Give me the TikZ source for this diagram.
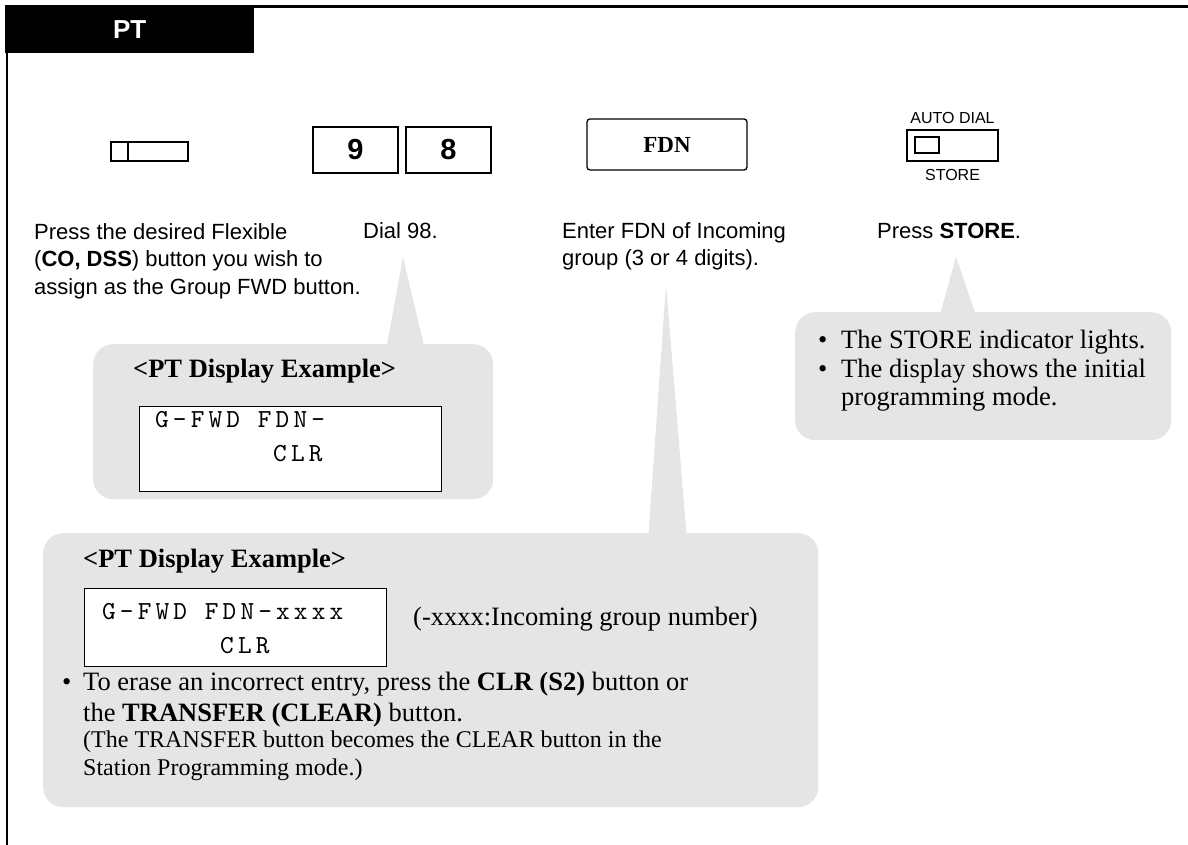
\documentclass[tikz,border=0pt]{standalone}
\usepackage{fontspec}
\setmainfont{Liberation Serif}
\setsansfont{Liberation Sans}
\newfontfamily\lcdfont{lmmono10-regular}[Extension=.otf, LetterSpace=16]
\usetikzlibrary{positioning}

\definecolor{balloongray}{gray}{0.898}

\begin{document}
\begin{tikzpicture}[
  x=1pt, y=-1pt,
  note/.style={inner sep=0pt, anchor=base west, align=left, font=\sffamily\fontsize{22}{27.3}\selectfont},
  sernote/.style={inner sep=0pt, anchor=base west, align=left, font=\fontsize{26.5}{31}\selectfont},
  smallnote/.style={inner sep=0pt, anchor=base west, align=left, font=\fontsize{24}{28}\selectfont},
  balloon/.style={fill=balloongray, rounded corners=20pt, anchor=north west, inner sep=0pt},
  lcd/.style={draw, line width=1.2pt, fill=white, anchor=north west, inner sep=0pt},
  lcdtext/.style={inner sep=0pt, anchor=base west, align=left, font=\lcdfont\fontsize{26}{33.5}\selectfont},
  key/.style={draw, line width=2pt, minimum width=85pt, minimum height=46pt, inner sep=0pt, font=\sffamily\bfseries\fontsize{29}{29}\selectfont},
]
  \useasboundingbox (0,0) rectangle (1188,845);

  % frame and title tab
  \node[fill=black, text=white, anchor=north west, minimum width=249pt, minimum height=48pt, inner sep=0pt,
        font=\sffamily\bfseries\fontsize{26}{26}\selectfont] (tab) at (5,5) {PT};
  \draw[line width=3pt] (tab.north east) ++(0,1.5) -- (1188,6.5);
  \draw[line width=2.5pt] (tab.south west) ++(1.8,0) -- (6.8,845);

  % buttons
  \node[draw, line width=1.8pt, minimum width=77pt, minimum height=19pt, inner sep=0pt, anchor=north west] (flex) at (110,141) {};
  \draw[line width=1.8pt] ([xshift=18pt]flex.north west) -- ([xshift=18pt]flex.south west);
  \node[key] (nine) at (355.5,150) {9};
  \node[key] (eight) at (448.5,150) {8};
  \node[draw, line width=1.3pt, rounded corners=3pt, minimum width=160pt, minimum height=51pt, inner sep=0pt,
        font=\bfseries\fontsize{23}{23}\selectfont] (fdn) at (667,144.5) {FDN};
  \node[draw, line width=2.5pt, minimum width=91pt, minimum height=31pt, inner sep=0pt] (store) at (952.5,145.5) {};
  \node[draw, line width=2pt, minimum width=24pt, minimum height=16pt, inner sep=0pt] (lamp) at (927,145) {};
  \node[inner sep=0pt, anchor=base, font=\sffamily\fontsize{16}{16}\selectfont] (autodial) at (952.5,124) {AUTO DIAL};
  \node[inner sep=0pt, anchor=base, font=\sffamily\fontsize{16}{16}\selectfont] (storelbl) at (952.5,181) {STORE};

  % step texts (base = last line)
  \node[note] (flexnote) at (34,294) {Press the desired Flexible\\(\textbf{CO, DSS}) button you wish to\\assign as the Group FWD button.};
  \node[note] (dialnote) at (363,238) {Dial 98.};
  \node[note] (fdnnote) at (562,265.3) {Enter FDN of Incoming\\group (3 or 4 digits).};
  \node[note] (storenote) at (877,238) {Press \textbf{STORE}.};

  % balloon for dial 98
  \coordinate (tip1) at (403,257);
  \fill[balloongray] (tip1) -- (386,350) -- (425,350) -- cycle;
  \node[balloon, minimum width=400pt, minimum height=155pt] (bal1) at (93,344) {};
  \node[sernote, font=\bfseries\fontsize{26.5}{30}\selectfont] (ex1) at (133,377) {<PT Display Example>};
  \node[lcd, minimum width=302pt, minimum height=85pt] (lcd1) at (139,406) {};
  \node[lcdtext] (lcdtext1) at (155,461) {G-FWD FDN-\\\hspace*{118pt}CLR};

  % balloon for FDN
  \coordinate (tip2) at (666,285);
  \fill[balloongray] (tip2) -- (648,540) -- (687,540) -- cycle;
  \node[balloon, minimum width=775pt, minimum height=274pt] (bal2) at (43,533) {};
  \node[sernote, font=\bfseries\fontsize{26.5}{30}\selectfont] (ex2) at (83,567) {<PT Display Example>};
  \node[lcd, minimum width=302pt, minimum height=78pt] (lcd2) at (84,588) {};
  \node[lcdtext] (lcdtext2) at (102,653) {G-FWD FDN-xxxx\\\hspace*{118pt}CLR};
  \node[sernote] (xxxx) at (413,625) {(-xxxx:Incoming group number)};
  \node[sernote] (bul1) at (62,690) {\textbullet};
  \node[sernote] (erase) at (83,721) {To erase an incorrect entry, press the \textbf{CLR (S2)} button or\\the \textbf{TRANSFER (CLEAR)} button.};
  \node[smallnote] (transfer) at (83,775) {(The TRANSFER button becomes the CLEAR button in the\\Station Programming mode.)};

  % balloon for STORE
  \coordinate (tip3) at (956,257);
  \fill[balloongray] (tip3) -- (939,318) -- (977,318) -- cycle;
  \node[balloon, minimum width=376pt, minimum height=128pt] (bal3) at (795,312) {};
  \node[sernote] (bul2) at (818,348) {\textbullet};
  \node[sernote] (lights) at (841,348) {The STORE indicator lights.};
  \node[sernote] (bul3) at (818,377) {\textbullet};
  \node[sernote, font=\fontsize{26.5}{28.5}\selectfont] (initial) at (841,405.5) {The display shows the initial\\programming mode.};
\end{tikzpicture}
\end{document}
